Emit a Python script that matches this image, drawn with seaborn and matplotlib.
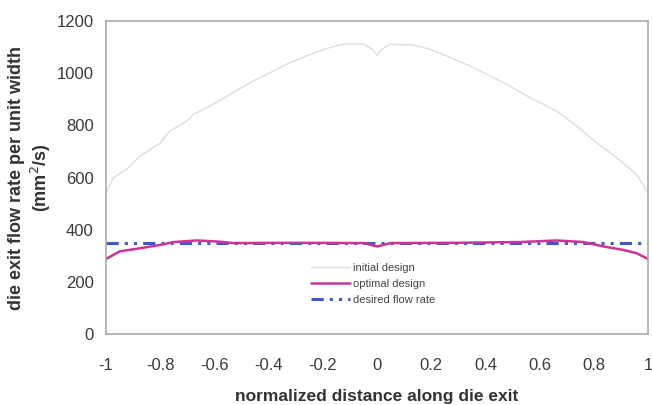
import pandas as pd
import seaborn as sns
import matplotlib.pyplot as plt

# values
initial_x = [-1.0, -0.973, -0.924, -0.875, -0.80, -0.764, -0.702, -0.678, -0.616, -0.53,
             -0.456, -0.395, -0.333, -0.259, -0.186, -0.124, -0.05, -0.015, 0.0, 0.015,
             0.048, 0.134, 0.196, 0.269, 0.343, 0.417, 0.49, 0.565, 0.663, 0.737,
             0.811, 0.884, 0.958, 1.0]
initial_y = [540, 599, 631, 682, 733, 778, 817, 842, 874, 926,
             971, 1002, 1035, 1067, 1095, 1112, 1112, 1090, 1068, 1090,
             1112, 1108, 1092, 1060, 1028, 990, 951, 906, 855, 797,
             733, 676, 612, 540]

optimal_x = [-1.0, -0.95, -0.875, -0.8, -0.75, -0.665, -0.59, -0.53, -0.3, -0.05,
             0.0, 0.05, 0.3, 0.528, 0.663, 0.761, 0.835, 0.908, 0.958, 1.0]
optimal_y = [288, 317, 329, 342, 353, 359, 355, 349, 350, 349,
             336, 349, 350, 353, 359, 353, 336, 323, 310, 288]

desired_x = [-1.0, 1.0]
desired_y = [350, 350]

labels = ["initial design", "optimal design", "desired flow rate"]

df = pd.concat([
    pd.DataFrame({"x": initial_x, "y": initial_y, "series": labels[0]}),
    pd.DataFrame({"x": optimal_x, "y": optimal_y, "series": labels[1]}),
    pd.DataFrame({"x": desired_x, "y": desired_y, "series": labels[2]}),
])

sns.set_style("white")
plt.rcParams['font.family'] = ['Liberation Sans', 'DejaVu Sans']

fig = plt.figure(figsize=(6.52, 4.05), dpi=100)
ax = fig.add_axes([0.1626, 0.175, 0.8314, 0.773])

palette = {labels[0]: "#dcdce6", labels[1]: "#cc3399", labels[2]: "#3a5bc7"}
sns.lineplot(data=df, x="x", y="y", hue="series", palette=palette, ax=ax,
             sort=False, estimator=None, legend=False)
ax.lines[0].set_linewidth(1.0)
ax.lines[1].set_linewidth(1.8)
ax.lines[2].set_linewidth(2.2)
ax.lines[2].set_dashes((4, 2, 1, 2, 1, 2))
ax.lines[2].set_zorder(1)

ax.set_xlim(-1, 1)
ax.set_ylim(0, 1200)
ax.set_xticks([-1, -0.8, -0.6, -0.4, -0.2, 0, 0.2, 0.4, 0.6, 0.8, 1])
ax.set_xticklabels(["-1", "-0.8", "-0.6", "-0.4", "-0.2", "0", "0.2", "0.4", "0.6", "0.8", "1"])
ax.set_yticks(range(0, 1201, 200))
ax.tick_params(axis="both", labelsize=12, colors="#3a3a3a", length=3, width=0.8,
               direction="out", color="#aaaaaa", pad=6)
ax.tick_params(axis="x", pad=14)
for s in ax.spines.values():
    s.set_color("#aaaaaa")
    s.set_linewidth(1.2)

ax.set_xlabel("normalized distance along die exit", fontsize=12.5, fontweight="bold",
              color="#333333", labelpad=12)
ax.set_ylabel("die exit flow rate per unit width\n(mm$^2$/s)", fontsize=13,
              fontweight="bold", color="#333333")
ax.yaxis.set_label_coords(-0.098, 0.5)

leg = ax.legend(ax.lines, labels, loc="upper left", bbox_to_anchor=(0.36, 0.26),
                frameon=False, fontsize=8, handlelength=3.5, handletextpad=0.3,
                labelspacing=0.55, labelcolor="#444444")

fig.savefig("out.png", dpi=100)
